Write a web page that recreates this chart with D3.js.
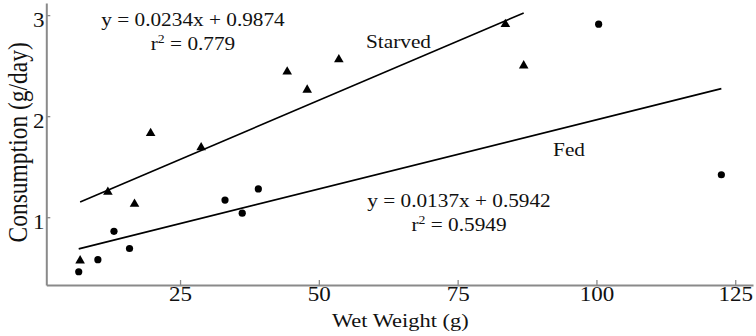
<!DOCTYPE html>
<html>
<head>
<meta charset="utf-8">
<script src="https://cdn.jsdelivr.net/npm/d3@7"></script>
<style>
  body { margin: 0; background: #fff; }
  svg { display: block; background: #fff; }
</style>
</head>
<body>
<svg id="scatterSvg"></svg>
<script>
"use strict";

// wet weight vs daily consumption, fed and starved groups

// data
let fedWeight = [6.75, 10.2, 13.1, 15.9, 33.1, 36.2, 39.1, 100.4, 122.5];
let fedConsumption = [0.46, 0.58, 0.86, 0.69, 1.17, 1.04, 1.28, 2.91, 1.42];
let starvedWeight = [7.0, 12.0, 16.8, 19.7, 28.8, 44.3, 47.9, 53.6, 83.6, 86.9];
let starvedConsumption = [0.57, 1.25, 1.13, 1.83, 1.69, 2.44, 2.26, 2.56, 2.91, 2.50];

// linear fits: slope, intercept, r2
let fedFit = [0.0137, 0.5942, 0.5949];
let starvedFit = [0.0234, 0.9874, 0.779];

let xTicks = [25, 50, 75, 100, 125];
let yTicks = [1, 2, 3];

// globals
let svgWidth = 756,
    svgHeight = 336;
let plot = {left: 46.3, right: 753, top: 3, bottom: 285};
let stretch = 1.15;   // text is drawn a bit wide
let axisGrey = "#8a8a8a";
let serif = "'Liberation Serif', 'Times New Roman', serif";

let xScale = d3.scaleLinear()
  .domain([0.91, 128.2])
  .range([plot.left, plot.right]);

let yScale = d3.scaleLinear()
  .domain([0.329, 3.12])
  .range([plot.bottom, plot.top]);

let svg = d3.select("#scatterSvg")
  .attr("width", svgWidth)
  .attr("height", svgHeight)
  .style("font-family", serif)
  ;

// stretched text anchored at x,y
function addText(parent, x, y, size, rotate) {
  return parent.append("text")
    .attr("transform", `translate(${x},${y}) scale(${stretch},1)` + (rotate ? " rotate(-90)" : ""))
    .attr("text-anchor", "middle")
    .style("font-size", size + "px")
    .attr("fill", "#111");
}

// axes
let xAxis = svg.append("g")
  .attr("transform", `translate(0,${plot.bottom})`)
  .call(d3.axisBottom(xScale).tickValues(xTicks).tickFormat(d3.format("d"))
    .tickSizeInner(-5).tickSizeOuter(0))
  ;
let yAxis = svg.append("g")
  .attr("transform", `translate(${plot.left},0)`)
  .call(d3.axisLeft(yScale).tickValues(yTicks).tickFormat(d3.format("d"))
    .tickSizeInner(-4).tickSizeOuter(0))
  ;

[xAxis, yAxis].forEach(function(ax) {
  ax.attr("font-family", serif).attr("font-size", 20);
  ax.select(".domain").attr("stroke", axisGrey).attr("stroke-width", 2);
  ax.selectAll(".tick line").attr("stroke", axisGrey).attr("stroke-width", 1.3);
  ax.selectAll(".tick text").attr("fill", "#111").attr("transform", `scale(${stretch},1)`);
});
xAxis.selectAll(".tick text").attr("y", 15.5).attr("dy", 0);
yAxis.selectAll(".tick text").attr("x", -1.5).attr("y", 11).attr("dy", 0);

// regression lines over each group's weight range
function fitLine(weights, fit) {
  let ext = d3.extent(weights);
  return d3.line()
    .x(d => xScale(d))
    .y(d => yScale(fit[0] * d + fit[1]))(ext);
}

svg.append("path")
  .attr("d", fitLine(starvedWeight, starvedFit))
  .attr("fill", "none").attr("stroke", "#000").attr("stroke-width", 1.6);
svg.append("path")
  .attr("d", fitLine(fedWeight, fedFit))
  .attr("fill", "none").attr("stroke", "#000").attr("stroke-width", 1.6);

// points
svg.append("g").selectAll("circle")
  .data(d3.zip(fedWeight, fedConsumption))
  .join("circle")
    .attr("cx", d => xScale(d[0]))
    .attr("cy", d => yScale(d[1]))
    .attr("r", 3.6)
    .attr("fill", "#000");

svg.append("g").selectAll("path")
  .data(d3.zip(starvedWeight, starvedConsumption))
  .join("path")
    .attr("transform", d => `translate(${xScale(d[0])},${yScale(d[1])})`)
    .attr("d", d3.symbol(d3.symbolTriangle, 40))
    .attr("fill", "#000");

// equation labels
function addFitLabel(x, y, fit) {
  addText(svg, x, y, 18.5).text(`y = ${fit[0]}x + ${fit[1]}`);
  let r = addText(svg, x, y + 24, 18.5);
  r.append("tspan").text("r");
  r.append("tspan").attr("dy", -7).style("font-size", "12px").text("2");
  r.append("tspan").attr("dy", 7).text(" = " + fit[2]);
}
addFitLabel(193, 25.5, starvedFit);
addFitLabel(459, 207, fedFit);

addText(svg, 398.5, 47.5, 18.5).text("Starved");
addText(svg, 569, 156, 18.5).text("Fed");

// axis titles
addText(svg, 400.3, 327, 19.5).text("Wet Weight (g)");
addText(svg, 26.5, 142.3, 23.5, true).text("Consumption (g/day)");
</script>
</body>
</html>
